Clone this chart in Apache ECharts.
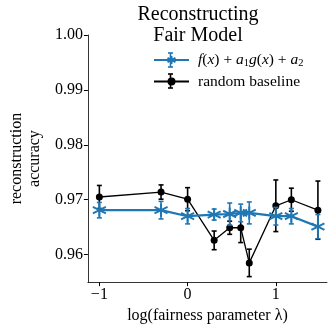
<!DOCTYPE html>
<html>
<head>
<meta charset="utf-8">
<script src="https://cdn.jsdelivr.net/npm/echarts@6/dist/echarts.min.js"></script>
<style>
  html, body { margin: 0; padding: 0; background: #fff; }
  #chart { width: 332px; height: 329px; }
</style>
</head>
<body>
<div id="chart"></div>
<script>
// log10 of the fairness parameter
const logLambda = [-1, -0.301, 0, 0.301, 0.477, 0.602, 0.699, 1, 1.176, 1.477]

const fairAcc = [0.9681, 0.9681, 0.9670, 0.9673, 0.9674, 0.9676, 0.9676, 0.9670, 0.9670, 0.9651]
const fairErr = [0.0014, 0.0016, 0.0014, 0.0010, 0.0020, 0.0016, 0.0020, 0.0016, 0.0014, 0.0022]

const baseAcc = [0.9705, 0.9714, 0.9701, 0.9626, 0.9649, 0.9649, 0.9585, 0.9689, 0.9700, 0.9681]
const baseErr = [0.0021, 0.0013, 0.0021, 0.0017, 0.0012, 0.0027, 0.0025, 0.0047, 0.0021, 0.0053]

const xTicks = [-1, 0, 1]
const yTicks = [0.96, 0.97, 0.98, 0.99, 1.00]

const BLUE = '#1f77b4'
const FONT = '"Liberation Serif", "DejaVu Serif", serif'

function pairs(values) {
  return logLambda.map((x, i) => [x, values[i]])
}

function errorSeries(values, errs, color, z) {
  return {
    type: 'custom',
    z: z,
    silent: true,
    data: logLambda.map((x, i) => [x, values[i], errs[i]]),
    renderItem: (params, api) => {
      const x = api.value(0)
      const lo = api.coord([x, api.value(1) - api.value(2)])
      const hi = api.coord([x, api.value(1) + api.value(2)])
      const cap = 2.5
      const style = { stroke: color, lineWidth: 1.6 }
      return {
        type: 'group',
        children: [
          { type: 'line', shape: { x1: lo[0], y1: lo[1], x2: hi[0], y2: hi[1] }, style },
          { type: 'line', shape: { x1: lo[0] - cap, y1: lo[1], x2: lo[0] + cap, y2: lo[1] }, style },
          { type: 'line', shape: { x1: hi[0] - cap, y1: hi[1], x2: hi[0] + cap, y2: hi[1] }, style },
        ],
      }
    },
  }
}

// error bar drawn over a legend icon
function legendBar(cx, cy, color) {
  const style = { stroke: color, lineWidth: 1.6 }
  return {
    type: 'group',
    z: 100,
    children: [
      { type: 'line', shape: { x1: cx, y1: cy - 7, x2: cx, y2: cy + 7 }, style },
      { type: 'line', shape: { x1: cx - 2.5, y1: cy - 7, x2: cx + 2.5, y2: cy - 7 }, style },
      { type: 'line', shape: { x1: cx - 2.5, y1: cy + 7, x2: cx + 2.5, y2: cy + 7 }, style },
    ],
  }
}

const asterisk = 'path://M0,-10 L0,10 M-8.66,-5 L8.66,5 M-8.66,5 L8.66,-5'

const chart = echarts.init(document.getElementById('chart'), null, { renderer: 'canvas' })
chart.setOption({
  animation: false,
  textStyle: { fontFamily: FONT },
  title: {
    text: 'Reconstructing\nFair Model',
    left: 193,
    top: -1,
    textAlign: 'center',
    textStyle: { fontFamily: FONT, fontSize: 20, fontWeight: 'normal', color: '#000', lineHeight: 21 },
  },
  legend: {
    orient: 'vertical',
    left: 153,
    top: 52,
    padding: 0,
    itemWidth: 35,
    itemHeight: 10,
    itemGap: 5,
    data: ['fair', 'base'],
    formatter: (name) => name === 'fair'
      ? '{i|f}({i|x}) + {i|a}{s|1}{i|g}({i|x}) + {i|a}{s|2}'
      : 'random baseline',
    textStyle: {
      fontFamily: FONT,
      fontSize: 15.5,
      color: '#000',
      padding: [0, 0, 0, 4],
      rich: {
        i: { fontFamily: FONT, fontSize: 15.5, fontStyle: 'italic' },
        s: { fontFamily: FONT, fontSize: 10.5, verticalAlign: 'bottom', padding: [6, 0, 0, 0] },
      },
    },
  },
  graphic: [legendBar(170.5, 60, BLUE), legendBar(170.5, 81, '#000')],
  grid: { left: 79, right: 5, top: 35, bottom: 46 },
  xAxis: {
    type: 'value',
    min: -1.13,
    max: 1.58,
    name: 'log(fairness parameter λ)',
    nameLocation: 'middle',
    nameGap: 20,
    nameTextStyle: { fontFamily: FONT, fontSize: 16, color: '#000' },
    axisLine: { show: true, onZero: false, lineStyle: { color: '#000', width: 0.8 } },
    axisTick: { show: true, length: 4, inside: false, customValues: xTicks, lineStyle: { color: '#000' } },
    axisLabel: {
      customValues: xTicks,
      color: '#000',
      fontSize: 16,
      fontFamily: FONT,
      margin: 5,
      formatter: (v) => String(v).replace('-', '\u2212'),
    },
    splitLine: { show: false },
  },
  yAxis: {
    type: 'value',
    min: 0.955,
    max: 1.0,
    name: 'reconstruction\naccuracy',
    nameLocation: 'middle',
    nameGap: 38,
    nameRotate: 90,
    nameTextStyle: { fontFamily: FONT, fontSize: 16, color: '#000', lineHeight: 18 },
    axisLine: { show: true, onZero: false, lineStyle: { color: '#000', width: 0.8 } },
    axisTick: { show: true, length: 4, inside: false, customValues: yTicks, lineStyle: { color: '#000' } },
    axisLabel: {
      customValues: yTicks,
      color: '#000',
      fontSize: 16,
      fontFamily: FONT,
      margin: 5,
      formatter: (v) => v.toFixed(2),
    },
    splitLine: { show: false },
  },
  series: [
    errorSeries(baseAcc, baseErr, '#000', 2),
    {
      name: 'base',
      type: 'line',
      z: 3,
      data: pairs(baseAcc),
      symbol: 'circle',
      symbolSize: 7,
      itemStyle: { color: '#000' },
      lineStyle: { color: '#000', width: 1.3 },
    },
    errorSeries(fairAcc, fairErr, BLUE, 4),
    {
      name: 'fair',
      type: 'line',
      z: 5,
      data: pairs(fairAcc),
      symbol: asterisk,
      symbolSize: 13,
      itemStyle: { color: 'rgba(0,0,0,0)', borderColor: BLUE, borderWidth: 2 },
      lineStyle: { color: BLUE, width: 2.2 },
    },
  ],
})
</script>
</body>
</html>
